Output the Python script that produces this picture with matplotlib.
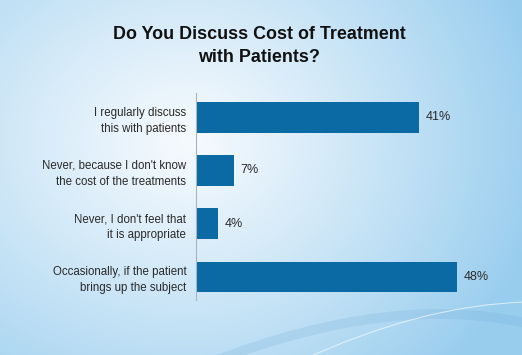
import numpy as np
import matplotlib.pyplot as plt
from matplotlib.colors import to_rgb
from matplotlib.path import Path
from matplotlib.patches import PathPatch

# ---------------------------------------------------------
# Data
# ---------------------------------------------------------
title = 'Do You Discuss Cost of Treatment\nwith Patients?'
answers = ['I regularly discuss\nthis with patients',
           "Never, because I don't know\nthe cost of the treatments",
           "Never, I don't feel that\nit is appropriate",
           'Occasionally, if the patient\nbrings up the subject']
percent = [41, 7, 4, 48]

plt.rcParams['font.family'] = ['Liberation Sans', 'DejaVu Sans']

W, H = 522, 355
fig = plt.figure(figsize=(W / 100, H / 100), dpi=100)

# ---------------------------------------------------------
# Slide background: soft white-to-light-blue gradient
# ---------------------------------------------------------
bg = fig.add_axes([0, 0, 1, 1])
yy, xx = np.mgrid[0:H, 0:W]
cx, cy = 190, 140
sx = np.where(xx > cx, 360, 420)
t = np.clip(np.sqrt(((xx - cx) / sx) ** 2 + ((yy - cy) / 330) ** 2), 0, 1) ** 1.1
c0 = np.array(to_rgb('#f6fafe'))
c1 = np.array(to_rgb('#98cdee'))
img = c0[None, None, :] * (1 - t[..., None]) + c1[None, None, :] * t[..., None]
bg.imshow(img, extent=[0, W, H, 0], aspect='auto')

# decorative swoosh at the bottom
curve = [Path.MOVETO, Path.CURVE3, Path.CURVE3]
band = Path([(212, 362), (390, 293), (526, 323)], curve)
bg.add_patch(PathPatch(band, fill=False, edgecolor='#6fa9d6',
                       linewidth=7, alpha=0.2, capstyle='butt'))
line = Path([(298, 362), (420, 305), (526, 302)], curve)
bg.add_patch(PathPatch(line, fill=False, edgecolor='white',
                       linewidth=0.8, alpha=0.6))
bg.set_xlim(0, W)
bg.set_ylim(H, 0)
bg.axis('off')

fig.text(259 / W, 1 - 46 / H, title, ha='center', va='center',
         fontsize=12.9, fontweight='bold', color='#111111', linespacing=1.5)

# ---------------------------------------------------------
# Horizontal bar chart
# ---------------------------------------------------------
ax = fig.add_axes([196 / W, 1 - 300 / H, (W - 196) / W, 207 / H])
ax.patch.set_alpha(0)
ypos = np.arange(len(answers))
bars = ax.barh(ypos, percent, height=0.57, color='#0b69a4')

ax.set_xlim(0, 60)
ax.set_ylim(3.44, -0.46)
ax.set_yticks(ypos)
ax.set_yticklabels(answers, fontsize=8.3, color='#2a2a2a', linespacing=1.45)
ax.tick_params(axis='y', length=0, pad=7)
ax.set_xticks([])
for side in ['top', 'right', 'bottom']:
    ax.spines[side].set_visible(False)
ax.spines['left'].set_color('#a9b4bc')
ax.spines['left'].set_linewidth(0.8)

for bar, v in zip(bars, percent):
    ax.text(bar.get_width() + 1.2, bar.get_y() + bar.get_height() / 2,
            f'{v}%', ha='left', va='center', fontsize=9, color='#2a2a2a')

plt.savefig('out.png', dpi=100)
